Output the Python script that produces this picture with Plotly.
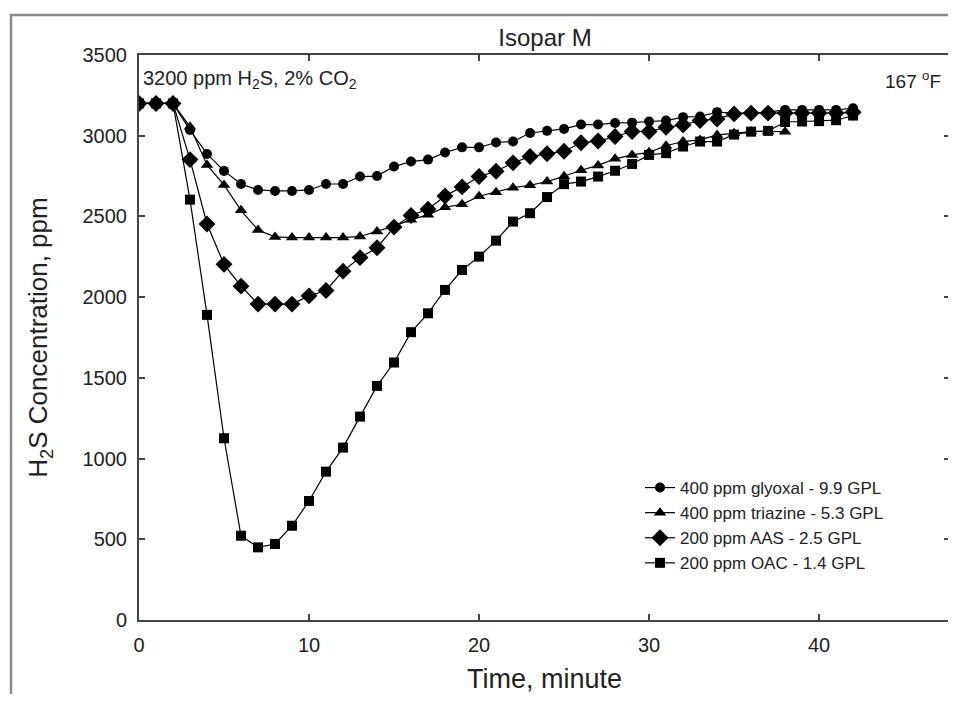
import plotly.graph_objects as go

time_full = list(range(0, 43))
time_triazine = list(range(0, 39))

glyoxal = [3200, 3200, 3200, 3035, 2887, 2782, 2701, 2664, 2658, 2658, 2664, 2701, 2701,
           2747, 2750, 2809, 2840, 2852, 2896, 2928, 2928, 2958, 2964, 3017, 3030, 3042,
           3069, 3069, 3079, 3081, 3088, 3094, 3115, 3119, 3146, 3140, 3140, 3146, 3160,
           3160, 3160, 3160, 3170]
triazine = [3200, 3200, 3200, 3055, 2819, 2695, 2538, 2416, 2373, 2369, 2369, 2369, 2369,
            2376, 2406, 2440, 2480, 2510, 2557, 2575, 2625, 2650, 2678, 2693, 2716, 2749,
            2786, 2816, 2857, 2881, 2897, 2938, 2964, 2974, 3005, 3015, 3026, 3026, 3025]
aas = [3200, 3200, 3200, 2852, 2453, 2203, 2068, 1957, 1957, 1957, 2008, 2041, 2161,
       2245, 2306, 2434, 2506, 2545, 2627, 2683, 2747, 2780, 2832, 2871, 2888, 2904,
       2956, 2967, 2995, 3026, 3026, 3052, 3067, 3094, 3104, 3135, 3140, 3140, 3140,
       3140, 3140, 3140, 3145]
oac = [3200, 3200, 3200, 2604, 1890, 1126, 522, 450, 471, 584, 737, 919, 1068, 1260,
       1450, 1595, 1783, 1900, 2045, 2168, 2251, 2350, 2468, 2520, 2620, 2700, 2716,
       2747, 2783, 2825, 2881, 2892, 2933, 2964, 2964, 3007, 3025, 3030, 3085, 3088,
       3090, 3096, 3125]

series_names = ["400 ppm glyoxal - 9.9 GPL", "400 ppm triazine - 5.3 GPL",
                "200 ppm AAS - 2.5 GPL", "200 ppm OAC - 1.4 GPL"]
x_ticks = [0, 10, 20, 30, 40]
y_ticks = [0, 500, 1000, 1500, 2000, 2500, 3000, 3500]

FONT = "Liberation Sans, Arial, sans-serif"
TXT = "#222222"

fig = go.Figure()
specs = [
    (time_full, glyoxal, "circle", 10),
    (time_triazine, triazine, "triangle-up", 11),
    (time_full, aas, "diamond", 13),
    (time_full, oac, "square", 10),
]
for (xs, ys, sym, sz), name in zip(specs, series_names):
    fig.add_trace(go.Scatter(
        x=xs, y=ys, mode="lines+markers", name=name,
        line=dict(color="#000000", width=1.2),
        marker=dict(symbol=sym, size=sz, color="#000000"),
    ))

axis_common = dict(
    showline=True, linecolor="#444444", linewidth=2, mirror="ticks",
    ticks="inside", ticklen=6, tickwidth=1.5, tickcolor="#444444",
    showgrid=False, zeroline=False, automargin=False,
    tickfont=dict(family=FONT, size=20, color=TXT),
)

fig.update_layout(
    width=944, height=686,
    margin=dict(l=131, r=2, t=47, b=74, autoexpand=False),
    paper_bgcolor="white", plot_bgcolor="white",
    font=dict(family=FONT, color=TXT),
    title=dict(text="Isopar M", x=(545 - 8) / 944, xanchor="center", y=1 - 30 / 686,
               yanchor="middle", yref="container",
               font=dict(family=FONT, size=24, color=TXT)),
    xaxis=dict(range=[0, 47.7], tickvals=x_ticks, ticklabelstandoff=6,
               title=dict(text="Time, minute", standoff=24,
                          font=dict(family=FONT, size=27, color=TXT)),
               **axis_common),
    yaxis=dict(range=[0, 3500], tickvals=y_ticks, ticklabelstandoff=6,
               title=dict(text="H<sub>2</sub>S Concentration, ppm", standoff=27,
                          font=dict(family=FONT, size=26, color=TXT)),
               **axis_common),
    legend=dict(x=(640 - 139) / 811, y=(620 - 470) / 565, xanchor="left", yanchor="top",
                bgcolor="rgba(0,0,0,0)", borderwidth=0,
                font=dict(family=FONT, size=17, color=TXT),
                tracegroupgap=0, itemsizing="trace"),
    showlegend=True,
)

fig.add_annotation(text="3200 ppm H<sub>2</sub>S, 2% CO<sub>2</sub>",
                   xref="paper", yref="paper", x=0.002, y=0.956,
                   xanchor="left", yanchor="middle", showarrow=False,
                   font=dict(family=FONT, size=20, color=TXT))
fig.add_annotation(text="167 <sup>o</sup>F",
                   xref="paper", yref="paper", x=0.991, y=0.956,
                   xanchor="right", yanchor="middle", showarrow=False,
                   font=dict(family=FONT, size=19, color=TXT))

# outer frame of the figure
fig.add_shape(type="rect", xref="paper", yref="paper",
              x0=(11 - 139) / 811, x1=1.05, y0=-0.3, y1=(620 - 15) / 565,
              line=dict(color="#8a8a8a", width=2.5), layer="below")

fig.write_html("out.html")
